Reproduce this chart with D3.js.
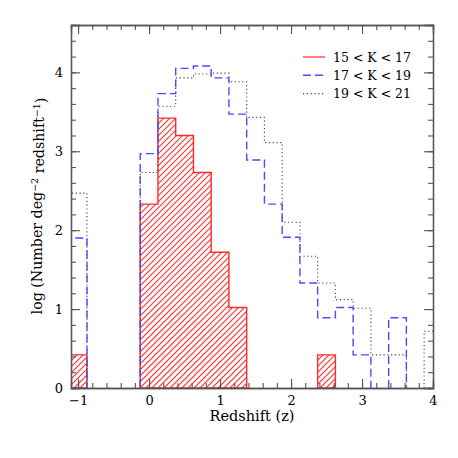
<!DOCTYPE html>
<html>
<head>
<meta charset="utf-8">
<script src="https://cdn.jsdelivr.net/npm/d3@7"></script>
<style>
  body { margin: 0; background: #fff; }
  text { font-family: "DejaVu Serif", serif; }
  .hatch line { stroke: #ff3030; }
</style>
</head>
<body>
<div id="vis"></div>
<script>
// bin centres (bin width 0.25)
var binCenters = [-1, -0.75, -0.5, -0.25, 0, 0.25, 0.5, 0.75, 1, 1.25, 1.5,
    1.75, 2, 2.25, 2.5, 2.75, 3, 3.25, 3.5, 3.75, 4];
var binWidth = 0.25;

// log counts per bin, null = empty bin
var k15to17 = [0.42, null, null, null, 2.33, 3.42, 3.20, 2.73, 1.72, 1.02, null,
    null, null, null, 0.42, null, null, null, null, null, null];
var k17to19 = [1.90, null, null, null, 2.97, 3.73, 4.05, 4.08, 3.93, 3.47, 2.89,
    2.33, 1.91, 1.33, 0.89, 1.02, 0.42, null, 0.89, null, null];
var k19to21 = [2.47, null, null, null, 2.73, 3.57, 3.93, 3.98, 3.99, 3.88, 3.43,
    3.11, 2.10, 1.67, 1.33, 1.12, 1.01, 0.42, 0.42, null, 0.72];

var legendLabels = ["15 < K < 17", "17 < K < 19", "19 < K < 21"];
var xTicks = [-1, 0, 1, 2, 3, 4];
var yTicks = [0, 1, 2, 3, 4];

var W = 458, H = 458;
var margin = {top: 25, right: 25, bottom: 70, left: 71};

var svg = d3.select("#vis").append("svg")
    .attr("width", W)
    .attr("height", H);

var x = d3.scaleLinear().domain([-1.1, 4.0]).range([margin.left, W - margin.right]);
var y = d3.scaleLinear().domain([0, 4.6]).range([H - margin.bottom, margin.top]);

// split a series into runs of filled bins, each run becomes one step outline
function runs(vals) {
    var out = [], cur = null;
    vals.forEach(function (v, i) {
        if (v == null) { cur = null; return; }
        if (!cur) { cur = []; out.push(cur); }
        cur.push([binCenters[i], v]);
    });
    return out.map(function (r) {
        var pts = [[r[0][0] - binWidth / 2, 0]];
        r.forEach(function (d) {
            pts.push([d[0] - binWidth / 2, d[1]]);
            pts.push([d[0] + binWidth / 2, d[1]]);
        });
        pts.push([r[r.length - 1][0] + binWidth / 2, 0]);
        return pts;
    });
}

var line = d3.line().x(function (d) { return x(d[0]); }).y(function (d) { return y(d[1]); });
var redRuns = runs(k15to17);

var defs = svg.append("defs");
defs.append("clipPath").attr("id", "plotClip")
    .append("rect")
    .attr("x", x(-1.1)).attr("y", y(4.6))
    .attr("width", x(4) - x(-1.1)).attr("height", y(0) - y(4.6));

defs.append("clipPath").attr("id", "redClip")
    .selectAll("path").data(redRuns).enter()
    .append("path")
    .attr("d", function (d) { return line(d) + "Z"; });

var plot = svg.append("g").attr("clip-path", "url(#plotClip)");

// red hatching: diagonal lines clipped to the red bins
var hatchH = y(0) - y(4.6);
var hatchOffsets = d3.range(x(-1.1) - hatchH, x(4) + 6, 6);
plot.append("g").attr("class", "hatch").attr("clip-path", "url(#redClip)")
    .selectAll("line").data(hatchOffsets).enter()
    .append("line")
    .attr("x1", function (d) { return d; })
    .attr("y1", y(0))
    .attr("x2", function (d) { return d + hatchH; })
    .attr("y2", y(4.6))
    .style("stroke", "#ff3030")
    .style("stroke-width", "1.1px");

plot.selectAll(".red").data(redRuns).enter()
    .append("path")
    .attr("class", "red")
    .attr("d", function (d) { return line(d) + "Z"; })
    .attr("fill", "none")
    .attr("stroke", "#ff2a2a")
    .attr("stroke-width", 1.4);

plot.selectAll(".black").data(runs(k19to21)).enter()
    .append("path")
    .attr("class", "black")
    .attr("d", line)
    .attr("fill", "none")
    .attr("stroke", "#444")
    .attr("stroke-width", 1.1)
    .attr("stroke-dasharray", "1.2,2.6");

plot.selectAll(".blue").data(runs(k17to19)).enter()
    .append("path")
    .attr("class", "blue")
    .attr("d", line)
    .attr("fill", "none")
    .attr("stroke", "#4a4aff")
    .attr("stroke-width", 1.4)
    .attr("stroke-dasharray", "8,4");

// axes, ticks pointing inwards on all four sides
var minorX = d3.range(-10, 41, 2).map(function (d) { return d / 10; });
var minorY = d3.range(0, 46, 2).map(function (d) { return d / 10; });

function styleAxis(g) {
    g.select(".domain").attr("stroke", "#555").attr("stroke-width", 1.3);
    g.selectAll(".tick line").attr("stroke", "#555").attr("stroke-width", 1.1);
    g.selectAll("text").attr("font-family", "DejaVu Serif").attr("font-size", 13).attr("fill", "#000");
}

svg.append("g").attr("transform", "translate(0," + y(0) + ")")
    .call(d3.axisBottom(x).tickValues(minorX).tickSize(-5).tickFormat(""))
    .call(styleAxis);
svg.append("g").attr("transform", "translate(0," + y(0) + ")")
    .call(d3.axisBottom(x).tickValues(xTicks).tickSize(-9).tickPadding(8)
        .tickFormat(function (d) { return d < 0 ? "\u2212" + Math.abs(d) : d; }))
    .call(styleAxis);

svg.append("g").attr("transform", "translate(0," + y(4.6) + ")")
    .call(d3.axisTop(x).tickValues(minorX).tickSize(-5).tickFormat(""))
    .call(styleAxis);
svg.append("g").attr("transform", "translate(0," + y(4.6) + ")")
    .call(d3.axisTop(x).tickValues(xTicks).tickSize(-9).tickFormat(""))
    .call(styleAxis);

svg.append("g").attr("transform", "translate(" + x(-1.1) + ",0)")
    .call(d3.axisLeft(y).tickValues(minorY).tickSize(-5).tickFormat(""))
    .call(styleAxis);
svg.append("g").attr("transform", "translate(" + x(-1.1) + ",0)")
    .call(d3.axisLeft(y).tickValues(yTicks).tickSize(-9).tickPadding(8).tickFormat(d3.format("d")))
    .call(styleAxis);

svg.append("g").attr("transform", "translate(" + x(4) + ",0)")
    .call(d3.axisRight(y).tickValues(minorY).tickSize(-5).tickFormat(""))
    .call(styleAxis);
svg.append("g").attr("transform", "translate(" + x(4) + ",0)")
    .call(d3.axisRight(y).tickValues(yTicks).tickSize(-9).tickFormat(""))
    .call(styleAxis);

// axis titles
svg.append("text")
    .attr("x", (x(-1.1) + x(4)) / 2)
    .attr("y", 421)
    .attr("text-anchor", "middle")
    .attr("font-size", 14.5)
    .text("Redshift (z)");

var ylab = svg.append("text")
    .attr("transform", "translate(42," + 206 + ") rotate(-90)")
    .attr("text-anchor", "middle")
    .attr("font-size", 14.2);
ylab.append("tspan").text("log (Number deg");
ylab.append("tspan").attr("dy", "-0.45em").attr("font-size", 9.5).text("\u22122");
ylab.append("tspan").attr("dy", "0.45em").text(" redshift");
ylab.append("tspan").attr("dy", "-0.45em").attr("font-size", 9.5).text("\u22121");
ylab.append("tspan").attr("dy", "0.45em").text(")");

// legend
var legendStyles = [
    {stroke: "#ff2a2a", dash: null, width: 1.2},
    {stroke: "#4a4aff", dash: "8,4", width: 1.4},
    {stroke: "#444", dash: "1.2,2.6", width: 1.1}
];
var leg = svg.append("g").selectAll("g").data(legendLabels).enter()
    .append("g")
    .attr("transform", function (d, i) { return "translate(303," + (57 + i * 18.3) + ")"; });
leg.append("line")
    .attr("x1", 0).attr("x2", 22)
    .attr("stroke", function (d, i) { return legendStyles[i].stroke; })
    .attr("stroke-width", function (d, i) { return legendStyles[i].width; })
    .attr("stroke-dasharray", function (d, i) { return legendStyles[i].dash; });
leg.append("text")
    .attr("x", 30)
    .attr("y", 4.5)
    .attr("font-size", 12.5)
    .text(function (d) { return d; });
</script>
</body>
</html>
